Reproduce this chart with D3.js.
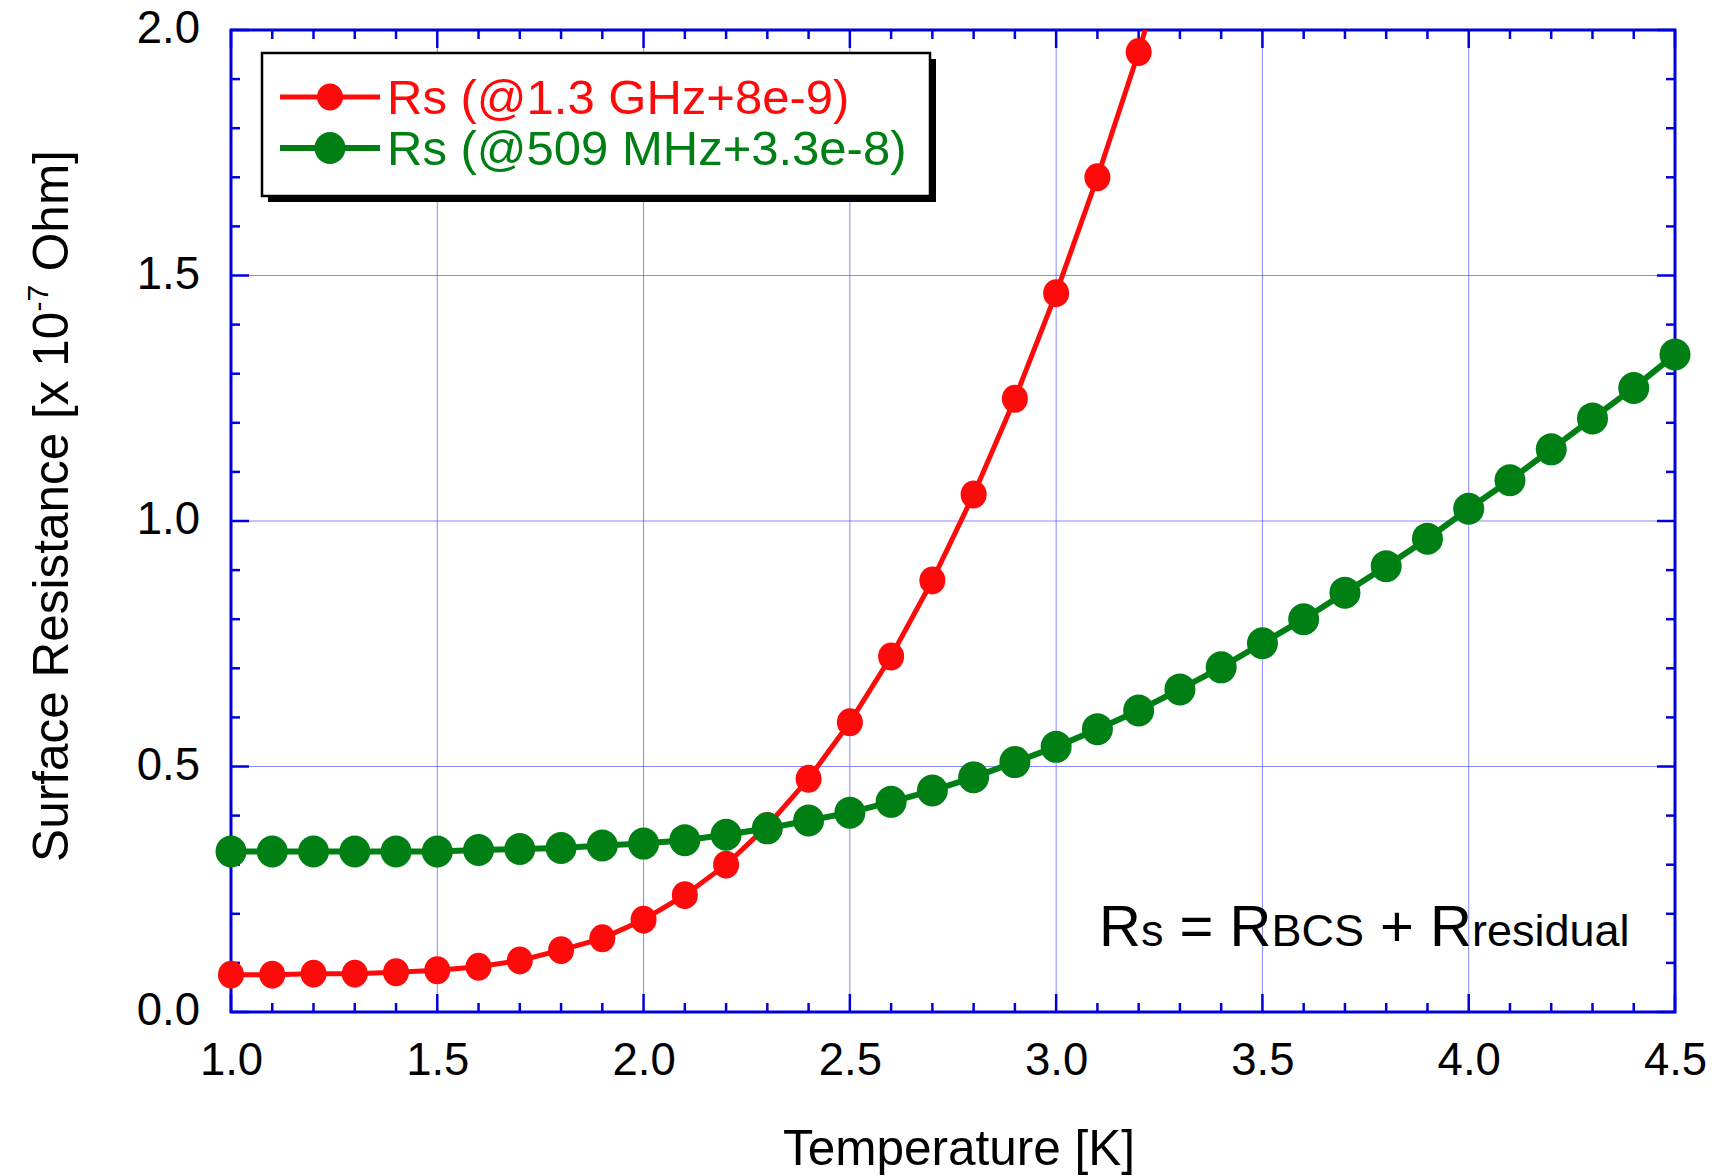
<!DOCTYPE html>
<html>
<head>
<meta charset="utf-8">
<script src="https://cdn.jsdelivr.net/npm/d3@7"></script>
<style>
  html, body { margin: 0; padding: 0; background: #fff; }
  svg { display: block; }
  text { font-family: "Liberation Sans", Arial, Helvetica, sans-serif; }
</style>
</head>
<body>
<svg id="chart" width="1725" height="1176"></svg>
<script>
// ---- Data ----
const temps1300 = [1.0,1.1,1.2,1.3,1.4,1.5,1.6,1.7,1.8,1.9,2.0,2.1,2.2,2.3,2.4,2.5,2.6,2.7,2.8,2.9,3.0,3.1,3.2,3.3];
const rs1300 = [0.076,0.076,0.078,0.078,0.081,0.085,0.092,0.105,0.126,0.150,0.188,0.238,0.300,0.379,0.475,0.590,0.724,0.879,1.054,1.249,1.464,1.700,1.955,2.24];
const temps509 = [1.0,1.1,1.2,1.3,1.4,1.5,1.6,1.7,1.8,1.9,2.0,2.1,2.2,2.3,2.4,2.5,2.6,2.7,2.8,2.9,3.0,3.1,3.2,3.3,3.4,3.5,3.6,3.7,3.8,3.9,4.0,4.1,4.2,4.3,4.4,4.5];
const rs509 = [0.327,0.327,0.327,0.327,0.327,0.327,0.330,0.332,0.334,0.339,0.343,0.350,0.361,0.374,0.390,0.406,0.428,0.451,0.478,0.509,0.540,0.576,0.614,0.657,0.702,0.751,0.800,0.854,0.908,0.964,1.025,1.083,1.146,1.209,1.271,1.339];
const xTicks = [1.0,1.5,2.0,2.5,3.0,3.5,4.0,4.5];
const yTicks = [0.0,0.5,1.0,1.5,2.0];
const seriesNames = ["Rs (@1.3 GHz+8e-9)", "Rs (@509 MHz+3.3e-8)"];

// ---- Layout ----
const svg = d3.select("#chart");
const L = 231, R = 1675, T = 30, B = 1012;
const x = d3.scaleLinear().domain([1.0, 4.5]).range([L, R]);
const y = d3.scaleLinear().domain([0, 2.0]).range([B, T]);
const BLUE = "#0000dd", RED = "#ff0a0a", GREEN = "#008014";

// gridlines
const g = svg.append("g");
g.selectAll(".gx").data(xTicks.slice(1, -1)).enter().append("line")
  .attr("x1", d => x(d)).attr("x2", d => x(d)).attr("y1", T).attr("y2", B)
  .attr("stroke", "#3a3aff").attr("stroke-width", 1).attr("stroke-opacity", 0.6);
g.selectAll(".gy").data(yTicks.slice(1, -1)).enter().append("line")
  .attr("y1", d => y(d)).attr("y2", d => y(d)).attr("x1", L).attr("x2", R)
  .attr("stroke", "#3a3aff").attr("stroke-width", 1).attr("stroke-opacity", 0.6);

// ticks (inward on all sides)
const minorX = d3.range(10, 46).map(v => v / 10);
const minorY = d3.range(0, 21).map(v => v / 10);
function isMajor(v) { return Math.abs(v * 2 - Math.round(v * 2)) < 1e-6; }
const tk = svg.append("g").attr("stroke", BLUE).attr("stroke-width", 2.5);
minorX.forEach(v => {
  const len = isMajor(v) ? 18 : 9;
  tk.append("line").attr("x1", x(v)).attr("x2", x(v)).attr("y1", B).attr("y2", B - len);
  tk.append("line").attr("x1", x(v)).attr("x2", x(v)).attr("y1", T).attr("y2", T + len);
});
minorY.forEach(v => {
  const len = isMajor(v) ? 18 : 9;
  tk.append("line").attr("y1", y(v)).attr("y2", y(v)).attr("x1", L).attr("x2", L + len);
  tk.append("line").attr("y1", y(v)).attr("y2", y(v)).attr("x1", R).attr("x2", R - len);
});

// frame
svg.append("rect").attr("x", L).attr("y", T).attr("width", R - L).attr("height", B - T)
  .attr("fill", "none").attr("stroke", BLUE).attr("stroke-width", 3);

// tick labels via axis generators (lines hidden)
const xAxis = svg.append("g").attr("transform", `translate(0,${B})`)
  .call(d3.axisBottom(x).tickValues(xTicks).tickFormat(d3.format(".1f")).tickSize(0).tickPadding(0));
xAxis.select(".domain").remove();
xAxis.selectAll("text").attr("font-size", 45.5).attr("fill", "#000")
  .attr("font-family", "'Liberation Sans', Arial, sans-serif").attr("dy", null).attr("y", 63);

const yAxis = svg.append("g").attr("transform", `translate(${L},0)`)
  .call(d3.axisLeft(y).tickValues(yTicks).tickFormat(d3.format(".1f")).tickSize(0).tickPadding(31));
yAxis.select(".domain").remove();
yAxis.selectAll("text").attr("font-size", 45.5).attr("fill", "#000")
  .attr("font-family", "'Liberation Sans', Arial, sans-serif").attr("dy", "0.28em");

// axis titles
svg.append("text").attr("x", 959).attr("y", 1165).attr("text-anchor", "middle")
  .attr("font-size", 49.5).text("Temperature [K]");
const yt = svg.append("text").attr("transform", "translate(68,506) rotate(-90)")
  .attr("text-anchor", "middle").attr("font-size", 49.5);
yt.append("tspan").text("Surface Resistance [x 10");
yt.append("tspan").attr("font-size", 30).attr("dy", -20).text("-7");
yt.append("tspan").attr("dy", 20).text(" Ohm]");

// clip
svg.append("clipPath").attr("id", "plotclip").append("rect")
  .attr("x", L).attr("y", T).attr("width", R - L).attr("height", B - T);

const line = d3.line().x(d => x(d[0])).y(d => y(d[1]));
const d1300 = temps1300.map((t, i) => [t, rs1300[i]]);
const d509 = temps509.map((t, i) => [t, rs509[i]]);

// red series
svg.append("path").datum(d1300).attr("d", line).attr("fill", "none")
  .attr("stroke", RED).attr("stroke-width", 5).attr("clip-path", "url(#plotclip)");
svg.append("g").selectAll("ellipse").data(d1300.filter(d => d[1] <= 2.0)).enter().append("ellipse")
  .attr("cx", d => x(d[0])).attr("cy", d => y(d[1])).attr("rx", 13).attr("ry", 14).attr("fill", RED);

// green series
svg.append("path").datum(d509).attr("d", line).attr("fill", "none")
  .attr("stroke", GREEN).attr("stroke-width", 6).attr("clip-path", "url(#plotclip)");
svg.append("g").selectAll("ellipse").data(d509).enter().append("ellipse")
  .attr("cx", d => x(d[0])).attr("cy", d => y(d[1])).attr("rx", 15.5).attr("ry", 16).attr("fill", GREEN);

// legend
const lg = svg.append("g");
lg.append("rect").attr("x", 268).attr("y", 59).attr("width", 668).attr("height", 143).attr("fill", "#000");
lg.append("rect").attr("x", 262).attr("y", 53).attr("width", 668).attr("height", 143)
  .attr("fill", "#fff").attr("stroke", "#000").attr("stroke-width", 2.5);
const legendItems = [
  { name: seriesNames[0], color: RED, yy: 97, r: 13, w: 5 },
  { name: seriesNames[1], color: GREEN, yy: 148, r: 15.5, w: 6 }
];
legendItems.forEach(it => {
  lg.append("line").attr("x1", 280).attr("x2", 380).attr("y1", it.yy).attr("y2", it.yy)
    .attr("stroke", it.color).attr("stroke-width", it.w);
  lg.append("ellipse").attr("cx", 330).attr("cy", it.yy).attr("rx", it.r).attr("ry", it.r + 0.5).attr("fill", it.color);
  lg.append("text").attr("x", 387).attr("y", it.yy + 17).attr("font-size", 49)
    .attr("fill", it.color).text(it.name);
});

// annotation
const an = svg.append("text").attr("x", 1099).attr("y", 946).attr("fill", "#000");
an.append("tspan").attr("font-size", 58).text("R");
an.append("tspan").attr("font-size", 45).text("s");
an.append("tspan").attr("font-size", 58).text(" = R");
an.append("tspan").attr("font-size", 45).text("BCS");
an.append("tspan").attr("font-size", 58).text(" + R");
an.append("tspan").attr("font-size", 45).text("residual");
</script>
</body>
</html>
